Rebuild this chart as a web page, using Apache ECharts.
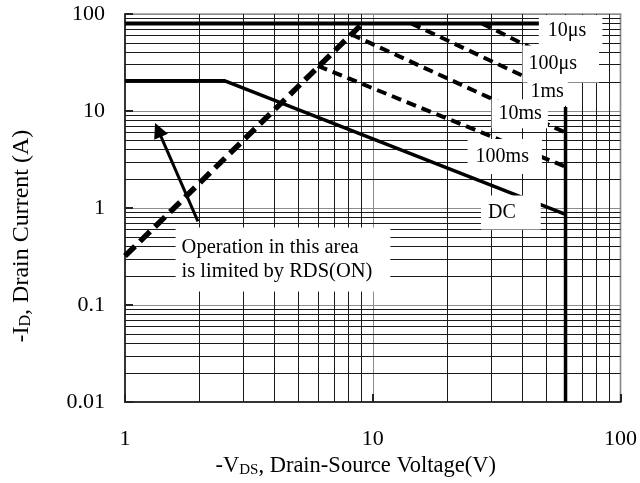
<!DOCTYPE html>
<html>
<head>
<meta charset="utf-8">
<script src="https://cdn.jsdelivr.net/npm/echarts@6/dist/echarts.min.js"></script>
<style>
  html, body { margin: 0; padding: 0; background: #fff; }
  #chart { width: 640px; height: 483px; }
</style>
</head>
<body>
<div id="chart"></div>
<script>
// Axis ticks (decades) and the in-between grid values of the log-log chart
const xTicks = [1, 10, 100];
const yTicks = [0.01, 0.1, 1, 10, 100];
const xMinorGrid = [2, 3, 4, 5, 6, 7, 8, 9, 20, 30, 40, 50, 60, 70, 80, 90];
const yMinorGrid = [0.02, 0.03, 0.04, 0.05, 0.06, 0.07, 0.08, 0.09,
                    0.2, 0.3, 0.4, 0.5, 0.6, 0.7, 0.8, 0.9,
                    2, 3, 4, 5, 6, 7, 8, 9,
                    20, 30, 40, 50, 60, 70, 80, 90];

// Safe operating area boundaries: [-VDS (V), -ID (A)]
const limit10us  = [[1, 80], [49, 80]];
const rdsOnLimit = [[1, 0.32], [9.1, 80]];
const limit100us = [[27.6, 80], [60, 29.7]];
const limit1ms   = [[14.3, 80], [60, 14.3]];
const limit10ms  = [[8.17, 61.8], [60, 6.0]];
const limit100ms = [[6.0, 29.2], [60, 2.67]];
const limitDC    = [[1, 20.5], [2.53, 20.5], [60, 0.86]];
const bvdssLimit = [[60, 11], [60, 0.01]];

// Pointer from the note towards the RDS(ON)-limited region
const noteArrow = [[1.97, 0.73], [1.36, 6.4]];

// Curve names and the note text, with their anchor points [V, A]
const curveNames = ['10\u03bcs', '100\u03bcs', '1ms', '10ms', '100ms', 'DC'];
const curveNameAnchors = [[62.9, 66.8], [57.4, 30.6], [50.8, 15.8], [39.2, 9.37], [34.1, 3.39], [36.1, 0.90]];
const noteText = 'Operation in this area\nis limited by RDS(ON)';
const noteAnchor = [1.6, 0.295];

const SERIF = '"Liberation Serif", "DejaVu Serif", serif';
const INK = '#000';

const namePadding = [
  [6, 16, 4, 9],
  [8, 22, 7, 6],
  [3, 4, 3, 3],
  [2, 6, 5, 7],
  [6, 13, 7, 8],
  [4, 25, 8, 7]
];

function tickText(ticks, v) {
  const t = ticks.find(k => Math.abs(Math.log10(k) - Math.log10(v)) < 1e-6);
  return t === undefined ? '' : String(t);
}

function solid(data, width) {
  return {
    type: 'line', data: data, showSymbol: false, symbol: 'none', z: 3, silent: true,
    lineStyle: { color: '#000', width: width, type: 'solid', cap: 'butt' }
  };
}
function dashed(data, width, dash) {
  return {
    type: 'line', data: data, showSymbol: false, symbol: 'none', z: 3, silent: true,
    lineStyle: { color: '#000', width: width, type: dash, cap: 'butt' }
  };
}

function labelLayer(points) {
  return {
    type: 'scatter', z: 10, silent: true, symbolSize: 1,
    itemStyle: { color: 'transparent', opacity: 1 },
    emphasis: { disabled: true },
    data: points
  };
}

const chart = echarts.init(document.getElementById('chart'), null, { renderer: 'canvas' });

const option = {
  animation: false,
  backgroundColor: '#fff',
  grid: {
    left: 125, right: 18, top: 14, bottom: 80,
    show: true, borderColor: '#b0b0b0', borderWidth: 2, backgroundColor: 'transparent'
  },
  xAxis: {
    type: 'log', logBase: 10, min: 1, max: 100,
    name: '-V{sub|DS}, Drain-Source Voltage(V)',
    nameLocation: 'middle', nameGap: 52,
    nameTextStyle: {
      fontFamily: SERIF, fontSize: 22.5, color: INK, padding: [0, 34, 0, 0],
      rich: { sub: { fontFamily: SERIF, fontSize: 15, color: INK, verticalAlign: 'bottom' } }
    },
    axisLine: { show: true, onZero: false, lineStyle: { color: '#333', width: 2 } },
    axisTick: { show: true, inside: true, length: 8, lineStyle: { color: '#222', width: 2 } },
    axisLabel: {
      fontFamily: SERIF, fontSize: 22, color: INK, margin: 26,
      formatter: v => tickText(xTicks, v)
    },
    splitLine: { show: true, lineStyle: { color: '#8c8c8c', width: 1 } }
  },
  yAxis: {
    type: 'log', logBase: 10, min: 0.01, max: 100,
    name: '-I{sub|D}, Drain Current (A)',
    nameLocation: 'middle', nameGap: 91, nameRotate: 90,
    nameTextStyle: {
      fontFamily: SERIF, fontSize: 24, color: INK, padding: [0, 56, 0, 0],
      rich: { sub: { fontFamily: SERIF, fontSize: 16, color: INK, verticalAlign: 'bottom' } }
    },
    axisLine: { show: true, onZero: false, lineStyle: { color: '#333', width: 2 } },
    axisTick: { show: true, inside: true, length: 8, lineStyle: { color: '#222', width: 2 } },
    axisLabel: {
      fontFamily: SERIF, fontSize: 22, color: INK, margin: 20,
      formatter: v => tickText(yTicks, v)
    },
    splitLine: { show: true, lineStyle: { color: '#8c8c8c', width: 1 } }
  },
  series: [
    // fine grid at 2..9 of every decade
    {
      type: 'line', data: [], silent: true, z: 1,
      markLine: {
        silent: true, z: 1, symbol: ['none', 'none'], animation: false,
        label: { show: false },
        lineStyle: { color: '#1a1a1a', width: 1, type: 'solid' },
        emphasis: { disabled: true },
        data: xMinorGrid.map(v => ({ xAxis: v })).concat(yMinorGrid.map(v => ({ yAxis: v })))
      }
    },
    solid(limit10us, 4),
    dashed(rdsOnLimit, 5.5, [14, 7]),
    dashed(limit100us, 4, [10, 6]),
    dashed(limit1ms, 4, [10, 6]),
    dashed(limit10ms, 4, [10, 6]),
    dashed(limit100ms, 4, [10, 6]),
    solid(limitDC, 3.5),
    solid(bvdssLimit, 3.5),
    {
      type: 'lines', coordinateSystem: 'cartesian2d', z: 4, silent: true,
      symbol: ['none', 'triangle'], symbolSize: 15,
      lineStyle: { color: '#000', width: 3, opacity: 1, curveness: 0 },
      data: [{ coords: noteArrow }]
    },
    // curve names on white boxes
    labelLayer(curveNames.map((name, i) => ({
      value: curveNameAnchors[i],
      label: {
        show: true, position: 'inside', formatter: name,
        fontFamily: SERIF, fontSize: 20, color: INK, lineHeight: 22, opacity: 1,
        backgroundColor: '#fff', padding: namePadding[i]
      }
    }))),
    // explanatory note
    labelLayer([{
      value: noteAnchor,
      label: {
        show: true, position: 'inside', align: 'left', verticalAlign: 'middle',
        formatter: noteText, opacity: 1,
        fontFamily: SERIF, fontSize: 20.5, color: INK, lineHeight: 24,
        backgroundColor: '#fff', padding: [8, 18, 8, 6]
      }
    }])
  ]
};

chart.setOption(option);
</script>
</body>
</html>
